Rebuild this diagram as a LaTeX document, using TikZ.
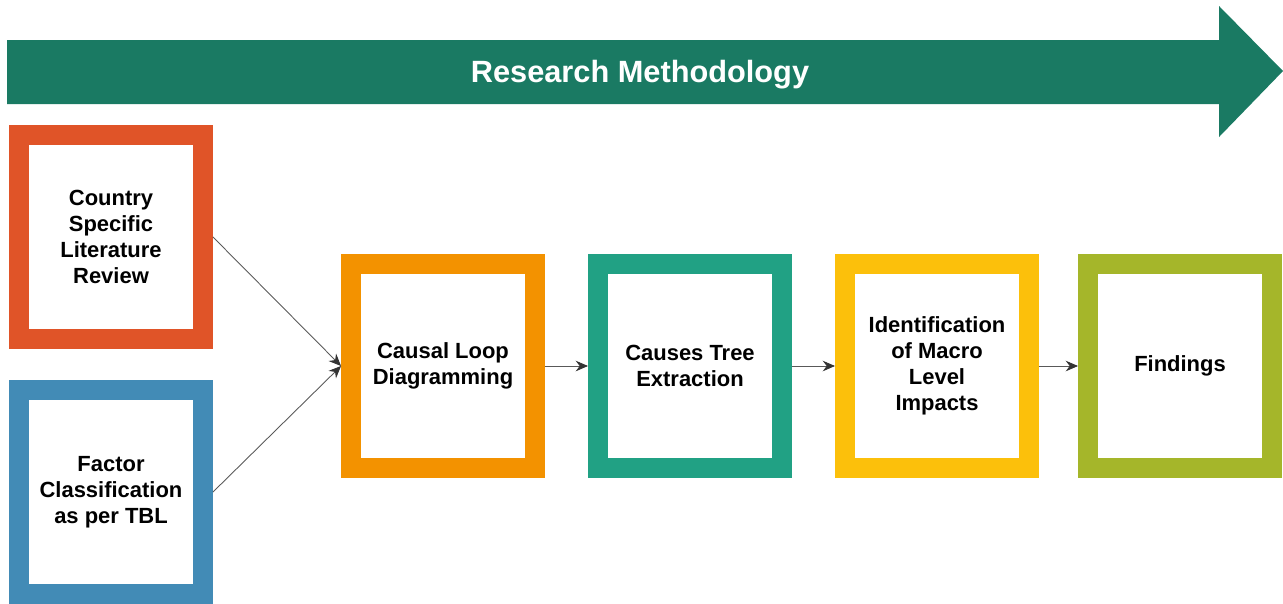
\documentclass[tikz,border=0pt]{standalone}
\usepackage{fontspec}
\setmainfont{Liberation Sans}
\usetikzlibrary{arrows.meta}
\definecolor{banner}{HTML}{1A7A63}
\definecolor{cred}{HTML}{E05428}
\definecolor{cblue}{HTML}{428BB6}
\definecolor{corange}{HTML}{F39200}
\definecolor{cteal}{HTML}{21A184}
\definecolor{cyellow}{HTML}{FCC00B}
\definecolor{cgreen}{HTML}{A5B62A}
\tikzset{
  stage/.style={draw=#1, line width=0.4cm, fill=white, minimum width=3.68cm,
    minimum height=4.08cm, align=center, font=\bfseries\fontsize{12.5}{14.8}\selectfont},
  link/.style={draw=black!65, line width=0.5pt, -{Stealth[length=7pt,width=6pt,color=black!80]}}
}
\begin{document}
\begin{tikzpicture}[x=0.02cm, y=-0.02cm]
      \useasboundingbox (0,0) rectangle (1283,603);
      % banner
      \fill[banner] (7,40) -- (1219,40) -- (1219,6) -- (1283,71)
        -- (1219,137) -- (1219,104) -- (7,104) -- cycle;
      \node[text=white, font=\bfseries\fontsize{17.5}{20}\selectfont] (title) at (640,75) {Research Methodology};
      \draw
        (111,237) node[stage=cred] (lit){Country\\Specific\\Literature\\Review}
        (111,492) node[stage=cblue] (tbl){Factor\\Classification\\as per TBL}
        (443,366) node[stage=corange] (cld){Causal Loop\\Diagramming}
        (690,366) node[stage=cteal] (tree){Causes Tree\\Extraction}
        (937,366) node[stage=cyellow] (macro){Identification\\of Macro\\Level\\Impacts}
        (1180,366) node[stage=cgreen] (find){Findings};
      \begin{scope}[link]
        \draw (lit.east) to (cld.west);
        \draw (tbl.east) to (cld.west);
        \draw (cld) to (tree);
        \draw (tree) to (macro);
        \draw (macro) to (find);
      \end{scope}
    \end{tikzpicture}
\end{document}
